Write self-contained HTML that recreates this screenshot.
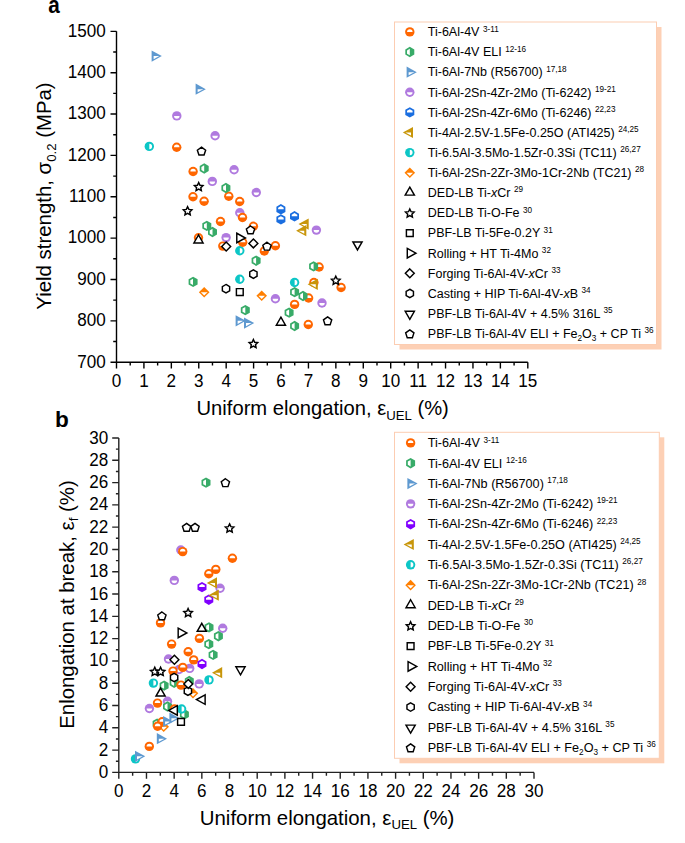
<!DOCTYPE html>
<html><head><meta charset="utf-8"><style>html,body{margin:0;padding:0;background:#fff;width:685px;height:843px;overflow:hidden}svg{display:block}</style></head>
<body><svg width="685" height="843" viewBox="0 0 685 843" font-family='"Liberation Sans", sans-serif' fill="#000"><text transform="translate(48.2,12.7) scale(0.9,1)" font-size="23" font-weight="bold">a</text>
<path d="M116.5,31.349999999999966 V362.2 H527.8" fill="none" stroke="#000" stroke-width="1.4"/>
<path d="M110.5,362.20H116.5M113.2,341.52H116.5M110.5,320.84H116.5M113.2,300.17H116.5M110.5,279.49H116.5M113.2,258.81H116.5M110.5,238.13H116.5M113.2,217.45H116.5M110.5,196.77H116.5M113.2,176.10H116.5M110.5,155.42H116.5M113.2,134.74H116.5M110.5,114.06H116.5M113.2,93.38H116.5M110.5,72.71H116.5M113.2,52.03H116.5M110.5,31.35H116.5M116.50,362.2V368.5M130.21,362.2V365.5M143.92,362.2V368.5M157.63,362.2V365.5M171.34,362.2V368.5M185.05,362.2V365.5M198.76,362.2V368.5M212.47,362.2V365.5M226.18,362.2V368.5M239.89,362.2V365.5M253.60,362.2V368.5M267.31,362.2V365.5M281.02,362.2V368.5M294.73,362.2V365.5M308.44,362.2V368.5M322.15,362.2V365.5M335.86,362.2V368.5M349.57,362.2V365.5M363.28,362.2V368.5M376.99,362.2V365.5M390.70,362.2V368.5M404.41,362.2V365.5M418.12,362.2V368.5M431.83,362.2V365.5M445.54,362.2V368.5M459.25,362.2V365.5M472.96,362.2V368.5M486.67,362.2V365.5M500.38,362.2V368.5M514.09,362.2V365.5M527.80,362.2V368.5" stroke="#000" stroke-width="1.4"/>
<text transform="translate(105.8,367.50) scale(0.96,1)" font-size="17.8" text-anchor="end">700</text>
<text transform="translate(105.8,326.14) scale(0.96,1)" font-size="17.8" text-anchor="end">800</text>
<text transform="translate(105.8,284.79) scale(0.96,1)" font-size="17.8" text-anchor="end">900</text>
<text transform="translate(105.8,243.43) scale(0.96,1)" font-size="17.8" text-anchor="end">1000</text>
<text transform="translate(105.8,202.07) scale(0.96,1)" font-size="17.8" text-anchor="end">1100</text>
<text transform="translate(105.8,160.72) scale(0.96,1)" font-size="17.8" text-anchor="end">1200</text>
<text transform="translate(105.8,119.36) scale(0.96,1)" font-size="17.8" text-anchor="end">1300</text>
<text transform="translate(105.8,78.01) scale(0.96,1)" font-size="17.8" text-anchor="end">1400</text>
<text transform="translate(105.8,36.65) scale(0.96,1)" font-size="17.8" text-anchor="end">1500</text>
<text transform="translate(116.50,386.9) scale(0.96,1)" font-size="17.8" text-anchor="middle">0</text>
<text transform="translate(143.92,386.9) scale(0.96,1)" font-size="17.8" text-anchor="middle">1</text>
<text transform="translate(171.34,386.9) scale(0.96,1)" font-size="17.8" text-anchor="middle">2</text>
<text transform="translate(198.76,386.9) scale(0.96,1)" font-size="17.8" text-anchor="middle">3</text>
<text transform="translate(226.18,386.9) scale(0.96,1)" font-size="17.8" text-anchor="middle">4</text>
<text transform="translate(253.60,386.9) scale(0.96,1)" font-size="17.8" text-anchor="middle">5</text>
<text transform="translate(281.02,386.9) scale(0.96,1)" font-size="17.8" text-anchor="middle">6</text>
<text transform="translate(308.44,386.9) scale(0.96,1)" font-size="17.8" text-anchor="middle">7</text>
<text transform="translate(335.86,386.9) scale(0.96,1)" font-size="17.8" text-anchor="middle">8</text>
<text transform="translate(363.28,386.9) scale(0.96,1)" font-size="17.8" text-anchor="middle">9</text>
<text transform="translate(390.70,386.9) scale(0.96,1)" font-size="17.8" text-anchor="middle">10</text>
<text transform="translate(418.12,386.9) scale(0.96,1)" font-size="17.8" text-anchor="middle">11</text>
<text transform="translate(445.54,386.9) scale(0.96,1)" font-size="17.8" text-anchor="middle">12</text>
<text transform="translate(472.96,386.9) scale(0.96,1)" font-size="17.8" text-anchor="middle">13</text>
<text transform="translate(500.38,386.9) scale(0.96,1)" font-size="17.8" text-anchor="middle">14</text>
<text transform="translate(527.80,386.9) scale(0.96,1)" font-size="17.8" text-anchor="middle">15</text>
<text x="196.5" y="415" font-size="20.2">Uniform elongation, ε<tspan font-size="13.2" dy="4.5">UEL</tspan><tspan dy="-4.5"> (%)</tspan></text>
<text transform="translate(51.3,309.7) rotate(-90)" font-size="20.4">Yield strength, σ<tspan font-size="13.2" dy="4.5">0.2</tspan><tspan dy="-4.5"> (MPa)</tspan></text>
<rect x="399.5" y="27" width="262.0" height="322.5" fill="#FDD0B5"/>
<rect x="394.5" y="22" width="262.0" height="322.5" fill="#fff" stroke="#FCCDB2" stroke-width="1"/>
<circle cx="409.80" cy="31.90" r="4.7" fill="#FF6600"/><path d="M407.05,31.90 A2.75,2.75 0 0 1 412.55,31.90 Z" fill="#fff"/>
<text x="427.8" y="36.20" font-size="12.5">Ti-6Al-4V<tspan dy="-4.7"> </tspan><tspan font-size="8.2">3-11</tspan></text>
<polygon points="409.80,46.82 414.30,49.42 414.30,54.62 409.80,57.22 405.30,54.62 405.30,49.42" fill="#38AB68"/><clipPath id="c1"><rect x="401.80" y="44.02" width="8" height="16"/></clipPath><polygon points="409.80,48.80 412.59,50.41 412.59,53.63 409.80,55.24 407.01,53.63 407.01,50.41" fill="#fff" clip-path="url(#c1)"/>
<text x="427.8" y="56.32" font-size="12.5">Ti-6Al-4V ELI<tspan dy="-4.7"> </tspan><tspan font-size="8.2">12-16</tspan></text>
<polygon points="406.60,66.54 416.80,72.14 406.60,77.74" fill="#5E99D0"/><clipPath id="c2"><rect x="403.10" y="72.14" width="16" height="8"/></clipPath><polygon points="408.62,69.06 414.24,72.14 408.62,75.22" fill="#fff" clip-path="url(#c2)"/>
<text x="427.8" y="76.44" font-size="12.5">Ti-6Al-7Nb (R56700)<tspan dy="-4.7"> </tspan><tspan font-size="8.2">17,18</tspan></text>
<circle cx="409.80" cy="92.26" r="4.7" fill="#B07ADF"/><path d="M407.05,92.26 A2.75,2.75 0 0 0 412.55,92.26 Z" fill="#fff"/>
<text x="427.8" y="96.56" font-size="12.5">Ti-6Al-2Sn-4Zr-2Mo (Ti-6242)<tspan dy="-4.7"> </tspan><tspan font-size="8.2">19-21</tspan></text>
<polygon points="409.80,107.18 414.30,109.78 414.30,114.98 409.80,117.58 405.30,114.98 405.30,109.78" fill="#1A6EE0"/><clipPath id="c3"><rect x="401.80" y="104.38" width="16" height="8"/></clipPath><polygon points="409.80,109.16 412.59,110.77 412.59,113.99 409.80,115.60 407.01,113.99 407.01,110.77" fill="#fff" clip-path="url(#c3)"/>
<text x="427.8" y="116.68" font-size="12.5">Ti-6Al-2Sn-4Zr-6Mo (Ti-6246)<tspan dy="-4.7"> </tspan><tspan font-size="8.2">22,23</tspan></text>
<polygon points="413.00,126.90 402.80,132.50 413.00,138.10" fill="#C8960A"/><clipPath id="c4"><rect x="400.50" y="132.50" width="16" height="8"/></clipPath><polygon points="410.98,129.42 405.37,132.50 410.98,135.58" fill="#fff" clip-path="url(#c4)"/>
<text x="427.8" y="136.80" font-size="12.5">Ti-4Al-2.5V-1.5Fe-0.25O (ATI425)<tspan dy="-4.7"> </tspan><tspan font-size="8.2">24,25</tspan></text>
<circle cx="409.80" cy="152.62" r="4.7" fill="#0CC6C6"/><path d="M409.80,149.87 A2.75,2.75 0 0 1 409.80,155.37 Z" fill="#fff"/>
<text x="427.8" y="156.92" font-size="12.5">Ti-6.5Al-3.5Mo-1.5Zr-0.3Si (TC11)<tspan dy="-4.7"> </tspan><tspan font-size="8.2">26,27</tspan></text>
<polygon points="409.80,167.44 415.10,172.74 409.80,178.04 404.50,172.74" fill="#FF7F00"/><clipPath id="c5"><rect x="401.80" y="172.74" width="16" height="8"/></clipPath><polygon points="409.80,169.45 413.09,172.74 409.80,176.03 406.51,172.74" fill="#fff" clip-path="url(#c5)"/>
<text x="427.8" y="177.04" font-size="12.5">Ti-6Al-2Sn-2Zr-3Mo-1Cr-2Nb (TC21)<tspan dy="-4.7"> </tspan><tspan font-size="8.2">28</tspan></text>
<polygon points="409.80,187.14 414.39,195.13 405.21,195.13" fill="#fff" stroke="#000" stroke-width="1.45" stroke-linejoin="miter"/>
<text x="427.8" y="197.16" font-size="12.5">DED-LB Ti-<tspan font-style="italic">x</tspan>Cr<tspan dy="-4.7"> </tspan><tspan font-size="8.2">29</tspan></text>
<polygon points="409.80,208.98 411.09,211.70 414.08,212.09 411.89,214.16 412.45,217.12 409.80,215.68 407.15,217.12 407.71,214.16 405.52,212.09 408.51,211.70" fill="#fff" stroke="#000" stroke-width="1.45" stroke-linejoin="miter"/>
<text x="427.8" y="217.28" font-size="12.5">DED-LB Ti-O-Fe<tspan dy="-4.7"> </tspan><tspan font-size="8.2">30</tspan></text>
<polygon points="406.40,229.70 413.20,229.70 413.20,236.50 406.40,236.50" fill="#fff" stroke="#000" stroke-width="1.45" stroke-linejoin="miter"/>
<text x="427.8" y="237.40" font-size="12.5">PBF-LB Ti-5Fe-0.2Y<tspan dy="-4.7"> </tspan><tspan font-size="8.2">31</tspan></text>
<polygon points="407.28,248.46 415.95,253.22 407.28,257.98" fill="#fff" stroke="#000" stroke-width="1.45" stroke-linejoin="miter"/>
<text x="427.8" y="257.52" font-size="12.5">Rolling + HT Ti-4Mo<tspan dy="-4.7"> </tspan><tspan font-size="8.2">32</tspan></text>
<polygon points="409.80,268.89 414.25,273.34 409.80,277.79 405.35,273.34" fill="#fff" stroke="#000" stroke-width="1.45" stroke-linejoin="miter"/>
<text x="427.8" y="277.64" font-size="12.5">Forging Ti-6Al-4V-<tspan font-style="italic">x</tspan>Cr<tspan dy="-4.7"> </tspan><tspan font-size="8.2">33</tspan></text>
<polygon points="409.80,289.25 413.45,291.35 413.45,295.57 409.80,297.67 406.15,295.57 406.15,291.35" fill="#fff" stroke="#000" stroke-width="1.45" stroke-linejoin="miter"/>
<text x="427.8" y="297.76" font-size="12.5">Casting + HIP Ti-6Al-4V-<tspan font-style="italic">x</tspan>B<tspan dy="-4.7"> </tspan><tspan font-size="8.2">34</tspan></text>
<polygon points="409.80,319.30 414.39,311.31 405.21,311.31" fill="#fff" stroke="#000" stroke-width="1.45" stroke-linejoin="miter"/>
<text x="427.8" y="317.88" font-size="12.5">PBF-LB Ti-6Al-4V + 4.5% 316L<tspan dy="-4.7"> </tspan><tspan font-size="8.2">35</tspan></text>
<polygon points="409.80,329.87 413.94,332.88 412.36,337.74 407.24,337.74 405.66,332.88" fill="#fff" stroke="#000" stroke-width="1.45" stroke-linejoin="miter"/>
<text x="427.8" y="338.00" font-size="12.5">PBF-LB Ti-6Al-4V ELI + Fe<tspan font-size="8.2" dy="3">2</tspan><tspan dy="-3">O</tspan><tspan font-size="8.2" dy="3">3</tspan><tspan dy="-3"> + CP Ti</tspan><tspan dy="-4.7"> </tspan><tspan font-size="8.2">36</tspan></text>
<circle cx="176.80" cy="115.90" r="4.7" fill="#B07ADF"/><path d="M174.05,115.90 A2.75,2.75 0 0 0 179.55,115.90 Z" fill="#fff"/>
<circle cx="215.10" cy="135.80" r="4.7" fill="#B07ADF"/><path d="M212.35,135.80 A2.75,2.75 0 0 0 217.85,135.80 Z" fill="#fff"/>
<circle cx="234.10" cy="169.70" r="4.7" fill="#B07ADF"/><path d="M231.35,169.70 A2.75,2.75 0 0 0 236.85,169.70 Z" fill="#fff"/>
<circle cx="212.30" cy="181.40" r="4.7" fill="#B07ADF"/><path d="M209.55,181.40 A2.75,2.75 0 0 0 215.05,181.40 Z" fill="#fff"/>
<circle cx="256.30" cy="192.50" r="4.7" fill="#B07ADF"/><path d="M253.55,192.50 A2.75,2.75 0 0 0 259.05,192.50 Z" fill="#fff"/>
<circle cx="239.80" cy="212.80" r="4.7" fill="#B07ADF"/><path d="M237.05,212.80 A2.75,2.75 0 0 0 242.55,212.80 Z" fill="#fff"/>
<circle cx="226.10" cy="237.60" r="4.7" fill="#B07ADF"/><path d="M223.35,237.60 A2.75,2.75 0 0 0 228.85,237.60 Z" fill="#fff"/>
<circle cx="316.40" cy="230.10" r="4.7" fill="#B07ADF"/><path d="M313.65,230.10 A2.75,2.75 0 0 0 319.15,230.10 Z" fill="#fff"/>
<circle cx="275.40" cy="298.80" r="4.7" fill="#B07ADF"/><path d="M272.65,298.80 A2.75,2.75 0 0 0 278.15,298.80 Z" fill="#fff"/>
<circle cx="322.00" cy="303.00" r="4.7" fill="#B07ADF"/><path d="M319.25,303.00 A2.75,2.75 0 0 0 324.75,303.00 Z" fill="#fff"/>
<circle cx="149.30" cy="146.40" r="4.7" fill="#0CC6C6"/><path d="M149.30,143.65 A2.75,2.75 0 0 1 149.30,149.15 Z" fill="#fff"/>
<circle cx="239.80" cy="250.80" r="4.7" fill="#0CC6C6"/><path d="M239.80,248.05 A2.75,2.75 0 0 1 239.80,253.55 Z" fill="#fff"/>
<circle cx="239.80" cy="279.30" r="4.7" fill="#0CC6C6"/><path d="M239.80,276.55 A2.75,2.75 0 0 1 239.80,282.05 Z" fill="#fff"/>
<circle cx="294.60" cy="282.50" r="4.7" fill="#0CC6C6"/><path d="M294.60,279.75 A2.75,2.75 0 0 1 294.60,285.25 Z" fill="#fff"/>
<circle cx="176.70" cy="147.30" r="4.7" fill="#FF6600"/><path d="M173.95,147.30 A2.75,2.75 0 0 1 179.45,147.30 Z" fill="#fff"/>
<circle cx="193.10" cy="171.50" r="4.7" fill="#FF6600"/><path d="M190.35,171.50 A2.75,2.75 0 0 1 195.85,171.50 Z" fill="#fff"/>
<circle cx="193.00" cy="196.70" r="4.7" fill="#FF6600"/><path d="M190.25,196.70 A2.75,2.75 0 0 1 195.75,196.70 Z" fill="#fff"/>
<circle cx="204.10" cy="201.30" r="4.7" fill="#FF6600"/><path d="M201.35,201.30 A2.75,2.75 0 0 1 206.85,201.30 Z" fill="#fff"/>
<circle cx="228.80" cy="196.30" r="4.7" fill="#FF6600"/><path d="M226.05,196.30 A2.75,2.75 0 0 1 231.55,196.30 Z" fill="#fff"/>
<circle cx="239.70" cy="201.50" r="4.7" fill="#FF6600"/><path d="M236.95,201.50 A2.75,2.75 0 0 1 242.45,201.50 Z" fill="#fff"/>
<circle cx="242.50" cy="217.50" r="4.7" fill="#FF6600"/><path d="M239.75,217.50 A2.75,2.75 0 0 1 245.25,217.50 Z" fill="#fff"/>
<circle cx="220.50" cy="221.50" r="4.7" fill="#FF6600"/><path d="M217.75,221.50 A2.75,2.75 0 0 1 223.25,221.50 Z" fill="#fff"/>
<circle cx="253.40" cy="226.30" r="4.7" fill="#FF6600"/><path d="M250.65,226.30 A2.75,2.75 0 0 1 256.15,226.30 Z" fill="#fff"/>
<circle cx="198.50" cy="237.80" r="4.7" fill="#FF6600"/><path d="M195.75,237.80 A2.75,2.75 0 0 1 201.25,237.80 Z" fill="#fff"/>
<circle cx="242.70" cy="242.30" r="4.7" fill="#FF6600"/><path d="M239.95,242.30 A2.75,2.75 0 0 1 245.45,242.30 Z" fill="#fff"/>
<circle cx="222.80" cy="246.10" r="4.7" fill="#FF6600"/><path d="M220.05,246.10 A2.75,2.75 0 0 1 225.55,246.10 Z" fill="#fff"/>
<circle cx="264.30" cy="251.00" r="4.7" fill="#FF6600"/><path d="M261.55,251.00 A2.75,2.75 0 0 1 267.05,251.00 Z" fill="#fff"/>
<circle cx="275.40" cy="245.80" r="4.7" fill="#FF6600"/><path d="M272.65,245.80 A2.75,2.75 0 0 1 278.15,245.80 Z" fill="#fff"/>
<circle cx="319.10" cy="267.00" r="4.7" fill="#FF6600"/><path d="M316.35,267.00 A2.75,2.75 0 0 1 321.85,267.00 Z" fill="#fff"/>
<circle cx="313.90" cy="282.50" r="4.7" fill="#FF6600"/><path d="M311.15,282.50 A2.75,2.75 0 0 1 316.65,282.50 Z" fill="#fff"/>
<circle cx="341.10" cy="287.50" r="4.7" fill="#FF6600"/><path d="M338.35,287.50 A2.75,2.75 0 0 1 343.85,287.50 Z" fill="#fff"/>
<circle cx="308.60" cy="298.00" r="4.7" fill="#FF6600"/><path d="M305.85,298.00 A2.75,2.75 0 0 1 311.35,298.00 Z" fill="#fff"/>
<circle cx="294.60" cy="304.40" r="4.7" fill="#FF6600"/><path d="M291.85,304.40 A2.75,2.75 0 0 1 297.35,304.40 Z" fill="#fff"/>
<circle cx="308.30" cy="324.50" r="4.7" fill="#FF6600"/><path d="M305.55,324.50 A2.75,2.75 0 0 1 311.05,324.50 Z" fill="#fff"/>
<polygon points="204.20,163.30 208.70,165.90 208.70,171.10 204.20,173.70 199.70,171.10 199.70,165.90" fill="#38AB68"/><clipPath id="c6"><rect x="196.20" y="160.50" width="8" height="16"/></clipPath><polygon points="204.20,165.28 206.99,166.89 206.99,170.11 204.20,171.72 201.41,170.11 201.41,166.89" fill="#fff" clip-path="url(#c6)"/>
<polygon points="225.90,182.80 230.40,185.40 230.40,190.60 225.90,193.20 221.40,190.60 221.40,185.40" fill="#38AB68"/><clipPath id="c7"><rect x="217.90" y="180.00" width="8" height="16"/></clipPath><polygon points="225.90,184.78 228.69,186.39 228.69,189.61 225.90,191.22 223.11,189.61 223.11,186.39" fill="#fff" clip-path="url(#c7)"/>
<polygon points="206.80,220.70 211.30,223.30 211.30,228.50 206.80,231.10 202.30,228.50 202.30,223.30" fill="#38AB68"/><clipPath id="c8"><rect x="198.80" y="217.90" width="8" height="16"/></clipPath><polygon points="206.80,222.68 209.59,224.29 209.59,227.51 206.80,229.12 204.01,227.51 204.01,224.29" fill="#fff" clip-path="url(#c8)"/>
<polygon points="212.50,226.80 217.00,229.40 217.00,234.60 212.50,237.20 208.00,234.60 208.00,229.40" fill="#38AB68"/><clipPath id="c9"><rect x="204.50" y="224.00" width="8" height="16"/></clipPath><polygon points="212.50,228.78 215.29,230.39 215.29,233.61 212.50,235.22 209.71,233.61 209.71,230.39" fill="#fff" clip-path="url(#c9)"/>
<polygon points="256.10,255.50 260.60,258.10 260.60,263.30 256.10,265.90 251.60,263.30 251.60,258.10" fill="#38AB68"/><clipPath id="c10"><rect x="248.10" y="252.70" width="8" height="16"/></clipPath><polygon points="256.10,257.48 258.89,259.09 258.89,262.31 256.10,263.92 253.31,262.31 253.31,259.09" fill="#fff" clip-path="url(#c10)"/>
<polygon points="193.10,276.70 197.60,279.30 197.60,284.50 193.10,287.10 188.60,284.50 188.60,279.30" fill="#38AB68"/><clipPath id="c11"><rect x="185.10" y="273.90" width="8" height="16"/></clipPath><polygon points="193.10,278.68 195.89,280.29 195.89,283.51 193.10,285.12 190.31,283.51 190.31,280.29" fill="#fff" clip-path="url(#c11)"/>
<polygon points="245.30,304.90 249.80,307.50 249.80,312.70 245.30,315.30 240.80,312.70 240.80,307.50" fill="#38AB68"/><clipPath id="c12"><rect x="237.30" y="302.10" width="8" height="16"/></clipPath><polygon points="245.30,306.88 248.09,308.49 248.09,311.71 245.30,313.32 242.51,311.71 242.51,308.49" fill="#fff" clip-path="url(#c12)"/>
<polygon points="313.60,261.20 318.10,263.80 318.10,269.00 313.60,271.60 309.10,269.00 309.10,263.80" fill="#38AB68"/><clipPath id="c13"><rect x="305.60" y="258.40" width="8" height="16"/></clipPath><polygon points="313.60,263.18 316.39,264.79 316.39,268.01 313.60,269.62 310.81,268.01 310.81,264.79" fill="#fff" clip-path="url(#c13)"/>
<polygon points="294.60,286.90 299.10,289.50 299.10,294.70 294.60,297.30 290.10,294.70 290.10,289.50" fill="#38AB68"/><clipPath id="c14"><rect x="286.60" y="284.10" width="8" height="16"/></clipPath><polygon points="294.60,288.88 297.39,290.49 297.39,293.71 294.60,295.32 291.81,293.71 291.81,290.49" fill="#fff" clip-path="url(#c14)"/>
<polygon points="303.00,290.80 307.50,293.40 307.50,298.60 303.00,301.20 298.50,298.60 298.50,293.40" fill="#38AB68"/><clipPath id="c15"><rect x="295.00" y="288.00" width="8" height="16"/></clipPath><polygon points="303.00,292.78 305.79,294.39 305.79,297.61 303.00,299.22 300.21,297.61 300.21,294.39" fill="#fff" clip-path="url(#c15)"/>
<polygon points="289.10,307.40 293.60,310.00 293.60,315.20 289.10,317.80 284.60,315.20 284.60,310.00" fill="#38AB68"/><clipPath id="c16"><rect x="281.10" y="304.60" width="8" height="16"/></clipPath><polygon points="289.10,309.38 291.89,310.99 291.89,314.21 289.10,315.82 286.31,314.21 286.31,310.99" fill="#fff" clip-path="url(#c16)"/>
<polygon points="294.60,320.80 299.10,323.40 299.10,328.60 294.60,331.20 290.10,328.60 290.10,323.40" fill="#38AB68"/><clipPath id="c17"><rect x="286.60" y="318.00" width="8" height="16"/></clipPath><polygon points="294.60,322.78 297.39,324.39 297.39,327.61 294.60,329.22 291.81,327.61 291.81,324.39" fill="#fff" clip-path="url(#c17)"/>
<polygon points="151.60,50.50 161.80,56.10 151.60,61.70" fill="#5E99D0"/><clipPath id="c18"><rect x="148.10" y="56.10" width="16" height="8"/></clipPath><polygon points="153.62,53.02 159.23,56.10 153.62,59.18" fill="#fff" clip-path="url(#c18)"/>
<polygon points="195.60,83.60 205.80,89.20 195.60,94.80" fill="#5E99D0"/><clipPath id="c19"><rect x="192.10" y="89.20" width="16" height="8"/></clipPath><polygon points="197.62,86.12 203.23,89.20 197.62,92.28" fill="#fff" clip-path="url(#c19)"/>
<polygon points="235.60,315.20 245.80,320.80 235.60,326.40" fill="#5E99D0"/><clipPath id="c20"><rect x="232.10" y="320.80" width="16" height="8"/></clipPath><polygon points="237.62,317.72 243.23,320.80 237.62,323.88" fill="#fff" clip-path="url(#c20)"/>
<polygon points="244.00,317.50 254.20,323.10 244.00,328.70" fill="#5E99D0"/><clipPath id="c21"><rect x="240.50" y="323.10" width="16" height="8"/></clipPath><polygon points="246.03,320.02 251.63,323.10 246.03,326.18" fill="#fff" clip-path="url(#c21)"/>
<polygon points="280.90,204.10 285.40,206.70 285.40,211.90 280.90,214.50 276.40,211.90 276.40,206.70" fill="#1A6EE0"/><clipPath id="c22"><rect x="272.90" y="201.30" width="16" height="8"/></clipPath><polygon points="280.90,206.08 283.69,207.69 283.69,210.91 280.90,212.52 278.11,210.91 278.11,207.69" fill="#fff" clip-path="url(#c22)"/>
<polygon points="280.90,214.20 285.40,216.80 285.40,222.00 280.90,224.60 276.40,222.00 276.40,216.80" fill="#1A6EE0"/><clipPath id="c23"><rect x="272.90" y="211.40" width="16" height="8"/></clipPath><polygon points="280.90,216.18 283.69,217.79 283.69,221.01 280.90,222.62 278.11,221.01 278.11,217.79" fill="#fff" clip-path="url(#c23)"/>
<polygon points="294.50,211.10 299.00,213.70 299.00,218.90 294.50,221.50 290.00,218.90 290.00,213.70" fill="#1A6EE0"/><clipPath id="c24"><rect x="286.50" y="208.30" width="16" height="8"/></clipPath><polygon points="294.50,213.08 297.29,214.69 297.29,217.91 294.50,219.52 291.71,217.91 291.71,214.69" fill="#fff" clip-path="url(#c24)"/>
<polygon points="308.70,218.50 298.50,224.10 308.70,229.70" fill="#C8960A"/><clipPath id="c25"><rect x="296.20" y="224.10" width="16" height="8"/></clipPath><polygon points="306.68,221.02 301.06,224.10 306.68,227.18" fill="#fff" clip-path="url(#c25)"/>
<polygon points="306.30,225.10 296.10,230.70 306.30,236.30" fill="#C8960A"/><clipPath id="c26"><rect x="293.80" y="230.70" width="16" height="8"/></clipPath><polygon points="304.28,227.62 298.67,230.70 304.28,233.78" fill="#fff" clip-path="url(#c26)"/>
<polygon points="317.80,278.70 307.60,284.30 317.80,289.90" fill="#C8960A"/><clipPath id="c27"><rect x="305.30" y="284.30" width="16" height="8"/></clipPath><polygon points="315.78,281.22 310.17,284.30 315.78,287.38" fill="#fff" clip-path="url(#c27)"/>
<polygon points="204.20,286.90 209.50,292.20 204.20,297.50 198.90,292.20" fill="#FF7F00"/><clipPath id="c28"><rect x="196.20" y="292.20" width="16" height="8"/></clipPath><polygon points="204.20,288.91 207.49,292.20 204.20,295.49 200.91,292.20" fill="#fff" clip-path="url(#c28)"/>
<polygon points="261.70,290.40 267.00,295.70 261.70,301.00 256.40,295.70" fill="#FF7F00"/><clipPath id="c29"><rect x="253.70" y="295.70" width="16" height="8"/></clipPath><polygon points="261.70,292.41 264.99,295.70 261.70,298.99 258.41,295.70" fill="#fff" clip-path="url(#c29)"/>
<polygon points="198.50,234.98 203.09,242.97 193.91,242.97" fill="#fff" stroke="#000" stroke-width="1.45" stroke-linejoin="miter"/>
<polygon points="280.90,317.18 285.49,325.17 276.31,325.17" fill="#fff" stroke="#000" stroke-width="1.45" stroke-linejoin="miter"/>
<polygon points="198.70,182.50 199.99,185.22 202.98,185.61 200.79,187.68 201.35,190.64 198.70,189.20 196.05,190.64 196.61,187.68 194.42,185.61 197.41,185.22" fill="#fff" stroke="#000" stroke-width="1.45" stroke-linejoin="miter"/>
<polygon points="187.60,206.70 188.89,209.42 191.88,209.81 189.69,211.88 190.25,214.84 187.60,213.40 184.95,214.84 185.51,211.88 183.32,209.81 186.31,209.42" fill="#fff" stroke="#000" stroke-width="1.45" stroke-linejoin="miter"/>
<polygon points="335.80,276.20 337.09,278.92 340.08,279.31 337.89,281.38 338.45,284.34 335.80,282.90 333.15,284.34 333.71,281.38 331.52,279.31 334.51,278.92" fill="#fff" stroke="#000" stroke-width="1.45" stroke-linejoin="miter"/>
<polygon points="253.40,339.50 254.69,342.22 257.68,342.61 255.49,344.68 256.05,347.64 253.40,346.20 250.75,347.64 251.31,344.68 249.12,342.61 252.11,342.22" fill="#fff" stroke="#000" stroke-width="1.45" stroke-linejoin="miter"/>
<polygon points="236.40,288.60 243.20,288.60 243.20,295.40 236.40,295.40" fill="#fff" stroke="#000" stroke-width="1.45" stroke-linejoin="miter"/>
<polygon points="236.78,233.24 245.44,238.00 236.78,242.76" fill="#fff" stroke="#000" stroke-width="1.45" stroke-linejoin="miter"/>
<polygon points="226.20,242.05 230.65,246.50 226.20,250.95 221.75,246.50" fill="#fff" stroke="#000" stroke-width="1.45" stroke-linejoin="miter"/>
<polygon points="253.40,238.95 257.85,243.40 253.40,247.85 248.95,243.40" fill="#fff" stroke="#000" stroke-width="1.45" stroke-linejoin="miter"/>
<polygon points="253.40,269.89 257.05,271.99 257.05,276.21 253.40,278.31 249.75,276.21 249.75,271.99" fill="#fff" stroke="#000" stroke-width="1.45" stroke-linejoin="miter"/>
<polygon points="226.00,284.49 229.65,286.59 229.65,290.81 226.00,292.91 222.35,290.81 222.35,286.59" fill="#fff" stroke="#000" stroke-width="1.45" stroke-linejoin="miter"/>
<polygon points="357.50,249.92 362.09,241.93 352.91,241.93" fill="#fff" stroke="#000" stroke-width="1.45" stroke-linejoin="miter"/>
<polygon points="201.50,147.17 205.64,150.18 204.06,155.04 198.94,155.04 197.36,150.18" fill="#fff" stroke="#000" stroke-width="1.45" stroke-linejoin="miter"/>
<polygon points="250.50,225.97 254.64,228.98 253.06,233.84 247.94,233.84 246.36,228.98" fill="#fff" stroke="#000" stroke-width="1.45" stroke-linejoin="miter"/>
<polygon points="267.00,242.27 271.14,245.28 269.56,250.14 264.44,250.14 262.86,245.28" fill="#fff" stroke="#000" stroke-width="1.45" stroke-linejoin="miter"/>
<polygon points="327.60,316.87 331.74,319.88 330.16,324.74 325.04,324.74 323.46,319.88" fill="#fff" stroke="#000" stroke-width="1.45" stroke-linejoin="miter"/>
<text x="55" y="427.4" font-size="22.6" font-weight="bold">b</text>
<path d="M118.8,438.0 V772.4 H534.0" fill="none" stroke="#222" stroke-width="1.4"/>
<path d="M112.2,772.40H118.8M115.89999999999999,761.25H118.8M112.2,750.11H118.8M115.89999999999999,738.96H118.8M112.2,727.81H118.8M115.89999999999999,716.67H118.8M112.2,705.52H118.8M115.89999999999999,694.37H118.8M112.2,683.23H118.8M115.89999999999999,672.08H118.8M112.2,660.93H118.8M115.89999999999999,649.79H118.8M112.2,638.64H118.8M115.89999999999999,627.49H118.8M112.2,616.35H118.8M115.89999999999999,605.20H118.8M112.2,594.05H118.8M115.89999999999999,582.91H118.8M112.2,571.76H118.8M115.89999999999999,560.61H118.8M112.2,549.47H118.8M115.89999999999999,538.32H118.8M112.2,527.17H118.8M115.89999999999999,516.03H118.8M112.2,504.88H118.8M115.89999999999999,493.73H118.8M112.2,482.59H118.8M115.89999999999999,471.44H118.8M112.2,460.29H118.8M115.89999999999999,449.15H118.8M112.2,438.00H118.8M118.80,772.4V778.6999999999999M132.64,772.4V775.6999999999999M146.48,772.4V778.6999999999999M160.32,772.4V775.6999999999999M174.16,772.4V778.6999999999999M188.00,772.4V775.6999999999999M201.84,772.4V778.6999999999999M215.68,772.4V775.6999999999999M229.52,772.4V778.6999999999999M243.36,772.4V775.6999999999999M257.20,772.4V778.6999999999999M271.04,772.4V775.6999999999999M284.88,772.4V778.6999999999999M298.72,772.4V775.6999999999999M312.56,772.4V778.6999999999999M326.40,772.4V775.6999999999999M340.24,772.4V778.6999999999999M354.08,772.4V775.6999999999999M367.92,772.4V778.6999999999999M381.76,772.4V775.6999999999999M395.60,772.4V778.6999999999999M409.44,772.4V775.6999999999999M423.28,772.4V778.6999999999999M437.12,772.4V775.6999999999999M450.96,772.4V778.6999999999999M464.80,772.4V775.6999999999999M478.64,772.4V778.6999999999999M492.48,772.4V775.6999999999999M506.32,772.4V778.6999999999999M520.16,772.4V775.6999999999999M534.00,772.4V778.6999999999999" stroke="#222" stroke-width="1.4"/>
<text transform="translate(108.3,777.90) scale(0.96,1)" font-size="17.8" text-anchor="end">0</text>
<text transform="translate(108.3,755.61) scale(0.96,1)" font-size="17.8" text-anchor="end">2</text>
<text transform="translate(108.3,733.31) scale(0.96,1)" font-size="17.8" text-anchor="end">4</text>
<text transform="translate(108.3,711.02) scale(0.96,1)" font-size="17.8" text-anchor="end">6</text>
<text transform="translate(108.3,688.73) scale(0.96,1)" font-size="17.8" text-anchor="end">8</text>
<text transform="translate(108.3,666.43) scale(0.96,1)" font-size="17.8" text-anchor="end">10</text>
<text transform="translate(108.3,644.14) scale(0.96,1)" font-size="17.8" text-anchor="end">12</text>
<text transform="translate(108.3,621.85) scale(0.96,1)" font-size="17.8" text-anchor="end">14</text>
<text transform="translate(108.3,599.55) scale(0.96,1)" font-size="17.8" text-anchor="end">16</text>
<text transform="translate(108.3,577.26) scale(0.96,1)" font-size="17.8" text-anchor="end">18</text>
<text transform="translate(108.3,554.97) scale(0.96,1)" font-size="17.8" text-anchor="end">20</text>
<text transform="translate(108.3,532.67) scale(0.96,1)" font-size="17.8" text-anchor="end">22</text>
<text transform="translate(108.3,510.38) scale(0.96,1)" font-size="17.8" text-anchor="end">24</text>
<text transform="translate(108.3,488.09) scale(0.96,1)" font-size="17.8" text-anchor="end">26</text>
<text transform="translate(108.3,465.79) scale(0.96,1)" font-size="17.8" text-anchor="end">28</text>
<text transform="translate(108.3,443.50) scale(0.96,1)" font-size="17.8" text-anchor="end">30</text>
<text transform="translate(118.80,797.0) scale(0.96,1)" font-size="17.8" text-anchor="middle">0</text>
<text transform="translate(146.48,797.0) scale(0.96,1)" font-size="17.8" text-anchor="middle">2</text>
<text transform="translate(174.16,797.0) scale(0.96,1)" font-size="17.8" text-anchor="middle">4</text>
<text transform="translate(201.84,797.0) scale(0.96,1)" font-size="17.8" text-anchor="middle">6</text>
<text transform="translate(229.52,797.0) scale(0.96,1)" font-size="17.8" text-anchor="middle">8</text>
<text transform="translate(257.20,797.0) scale(0.96,1)" font-size="17.8" text-anchor="middle">10</text>
<text transform="translate(284.88,797.0) scale(0.96,1)" font-size="17.8" text-anchor="middle">12</text>
<text transform="translate(312.56,797.0) scale(0.96,1)" font-size="17.8" text-anchor="middle">14</text>
<text transform="translate(340.24,797.0) scale(0.96,1)" font-size="17.8" text-anchor="middle">16</text>
<text transform="translate(367.92,797.0) scale(0.96,1)" font-size="17.8" text-anchor="middle">18</text>
<text transform="translate(395.60,797.0) scale(0.96,1)" font-size="17.8" text-anchor="middle">20</text>
<text transform="translate(423.28,797.0) scale(0.96,1)" font-size="17.8" text-anchor="middle">22</text>
<text transform="translate(450.96,797.0) scale(0.96,1)" font-size="17.8" text-anchor="middle">24</text>
<text transform="translate(478.64,797.0) scale(0.96,1)" font-size="17.8" text-anchor="middle">26</text>
<text transform="translate(506.32,797.0) scale(0.96,1)" font-size="17.8" text-anchor="middle">28</text>
<text transform="translate(534.00,797.0) scale(0.96,1)" font-size="17.8" text-anchor="middle">30</text>
<text x="199.8" y="824.5" font-size="20.4">Uniform elongation, ε<tspan font-size="13.2" dy="4.5">UEL</tspan><tspan dy="-4.5"> (%)</tspan></text>
<text transform="translate(73.7,728.8) rotate(-90)" font-size="20.4">Enlongation at break, ε<tspan font-size="13.2" dy="4.5">f</tspan><tspan dy="-4.5"> (%)</tspan></text>
<rect x="399.5" y="437.3" width="264.79999999999995" height="325.99999999999994" fill="#FDD0B5"/>
<rect x="394.5" y="432.3" width="264.79999999999995" height="325.99999999999994" fill="#fff" stroke="#FCCDB2" stroke-width="1"/>
<circle cx="410.60" cy="442.90" r="4.7" fill="#FF6600"/><path d="M407.85,442.90 A2.75,2.75 0 0 1 413.35,442.90 Z" fill="#fff"/>
<text x="427.7" y="447.20" font-size="12.65">Ti-6Al-4V<tspan dy="-4.7"> </tspan><tspan font-size="8.2">3-11</tspan></text>
<polygon points="410.60,458.02 415.10,460.62 415.10,465.82 410.60,468.42 406.10,465.82 406.10,460.62" fill="#38AB68"/><clipPath id="c30"><rect x="402.60" y="455.22" width="8" height="16"/></clipPath><polygon points="410.60,460.00 413.39,461.61 413.39,464.83 410.60,466.44 407.81,464.83 407.81,461.61" fill="#fff" clip-path="url(#c30)"/>
<text x="427.7" y="467.52" font-size="12.65">Ti-6Al-4V ELI<tspan dy="-4.7"> </tspan><tspan font-size="8.2">12-16</tspan></text>
<polygon points="407.40,477.94 417.60,483.54 407.40,489.14" fill="#5E99D0"/><clipPath id="c31"><rect x="403.90" y="483.54" width="16" height="8"/></clipPath><polygon points="409.43,480.46 415.04,483.54 409.43,486.62" fill="#fff" clip-path="url(#c31)"/>
<text x="427.7" y="487.84" font-size="12.65">Ti-6Al-7Nb (R56700)<tspan dy="-4.7"> </tspan><tspan font-size="8.2">17,18</tspan></text>
<circle cx="410.60" cy="503.86" r="4.7" fill="#B07ADF"/><path d="M407.85,503.86 A2.75,2.75 0 0 0 413.35,503.86 Z" fill="#fff"/>
<text x="427.7" y="508.16" font-size="12.65">Ti-6Al-2Sn-4Zr-2Mo (Ti-6242)<tspan dy="-4.7"> </tspan><tspan font-size="8.2">19-21</tspan></text>
<polygon points="410.60,518.98 415.10,521.58 415.10,526.78 410.60,529.38 406.10,526.78 406.10,521.58" fill="#8000FF"/><clipPath id="c32"><rect x="402.60" y="516.18" width="16" height="8"/></clipPath><polygon points="410.60,520.96 413.39,522.57 413.39,525.79 410.60,527.40 407.81,525.79 407.81,522.57" fill="#fff" clip-path="url(#c32)"/>
<text x="427.7" y="528.48" font-size="12.65">Ti-6Al-2Sn-4Zr-6Mo (Ti-6246)<tspan dy="-4.7"> </tspan><tspan font-size="8.2">22,23</tspan></text>
<polygon points="413.80,538.90 403.60,544.50 413.80,550.10" fill="#C8960A"/><clipPath id="c33"><rect x="401.30" y="544.50" width="16" height="8"/></clipPath><polygon points="411.78,541.42 406.17,544.50 411.78,547.58" fill="#fff" clip-path="url(#c33)"/>
<text x="427.7" y="548.80" font-size="12.65">Ti-4Al-2.5V-1.5Fe-0.25O (ATI425)<tspan dy="-4.7"> </tspan><tspan font-size="8.2">24,25</tspan></text>
<circle cx="410.60" cy="564.82" r="4.7" fill="#0CC6C6"/><path d="M410.60,562.07 A2.75,2.75 0 0 1 410.60,567.57 Z" fill="#fff"/>
<text x="427.7" y="569.12" font-size="12.65">Ti-6.5Al-3.5Mo-1.5Zr-0.3Si (TC11)<tspan dy="-4.7"> </tspan><tspan font-size="8.2">26,27</tspan></text>
<polygon points="410.60,579.84 415.90,585.14 410.60,590.44 405.30,585.14" fill="#FF7F00"/><clipPath id="c34"><rect x="402.60" y="585.14" width="16" height="8"/></clipPath><polygon points="410.60,581.85 413.89,585.14 410.60,588.43 407.31,585.14" fill="#fff" clip-path="url(#c34)"/>
<text x="427.7" y="589.44" font-size="12.65">Ti-6Al-2Sn-2Zr-3Mo-1Cr-2Nb (TC21)<tspan dy="-4.7"> </tspan><tspan font-size="8.2">28</tspan></text>
<polygon points="410.60,599.74 415.19,607.73 406.01,607.73" fill="#fff" stroke="#000" stroke-width="1.45" stroke-linejoin="miter"/>
<text x="427.7" y="609.76" font-size="12.65">DED-LB Ti-<tspan font-style="italic">x</tspan>Cr<tspan dy="-4.7"> </tspan><tspan font-size="8.2">29</tspan></text>
<polygon points="410.60,621.78 411.89,624.50 414.88,624.89 412.69,626.96 413.25,629.92 410.60,628.48 407.95,629.92 408.51,626.96 406.32,624.89 409.31,624.50" fill="#fff" stroke="#000" stroke-width="1.45" stroke-linejoin="miter"/>
<text x="427.7" y="630.08" font-size="12.65">DED-LB Ti-O-Fe<tspan dy="-4.7"> </tspan><tspan font-size="8.2">30</tspan></text>
<polygon points="407.20,642.70 414.00,642.70 414.00,649.50 407.20,649.50" fill="#fff" stroke="#000" stroke-width="1.45" stroke-linejoin="miter"/>
<text x="427.7" y="650.40" font-size="12.65">PBF-LB Ti-5Fe-0.2Y<tspan dy="-4.7"> </tspan><tspan font-size="8.2">31</tspan></text>
<polygon points="408.08,661.66 416.75,666.42 408.08,671.18" fill="#fff" stroke="#000" stroke-width="1.45" stroke-linejoin="miter"/>
<text x="427.7" y="670.72" font-size="12.65">Rolling + HT Ti-4Mo<tspan dy="-4.7"> </tspan><tspan font-size="8.2">32</tspan></text>
<polygon points="410.60,682.29 415.05,686.74 410.60,691.19 406.15,686.74" fill="#fff" stroke="#000" stroke-width="1.45" stroke-linejoin="miter"/>
<text x="427.7" y="691.04" font-size="12.65">Forging Ti-6Al-4V-<tspan font-style="italic">x</tspan>Cr<tspan dy="-4.7"> </tspan><tspan font-size="8.2">33</tspan></text>
<polygon points="410.60,702.85 414.25,704.95 414.25,709.17 410.60,711.27 406.95,709.17 406.95,704.95" fill="#fff" stroke="#000" stroke-width="1.45" stroke-linejoin="miter"/>
<text x="427.7" y="711.36" font-size="12.65">Casting + HIP Ti-6Al-4V-<tspan font-style="italic">x</tspan>B<tspan dy="-4.7"> </tspan><tspan font-size="8.2">34</tspan></text>
<polygon points="410.60,733.10 415.19,725.11 406.01,725.11" fill="#fff" stroke="#000" stroke-width="1.45" stroke-linejoin="miter"/>
<text x="427.7" y="731.68" font-size="12.65">PBF-LB Ti-6Al-4V + 4.5% 316L<tspan dy="-4.7"> </tspan><tspan font-size="8.2">35</tspan></text>
<polygon points="410.60,743.87 414.74,746.88 413.16,751.74 408.04,751.74 406.46,746.88" fill="#fff" stroke="#000" stroke-width="1.45" stroke-linejoin="miter"/>
<text x="427.7" y="752.00" font-size="12.65">PBF-LB Ti-6Al-4V ELI + Fe<tspan font-size="8.2" dy="3">2</tspan><tspan dy="-3">O</tspan><tspan font-size="8.2" dy="3">3</tspan><tspan dy="-3"> + CP Ti</tspan><tspan dy="-4.7"> </tspan><tspan font-size="8.2">36</tspan></text>
<circle cx="180.80" cy="550.00" r="4.7" fill="#B07ADF"/><path d="M178.05,550.00 A2.75,2.75 0 0 0 183.55,550.00 Z" fill="#fff"/>
<circle cx="174.30" cy="580.40" r="4.7" fill="#B07ADF"/><path d="M171.55,580.40 A2.75,2.75 0 0 0 177.05,580.40 Z" fill="#fff"/>
<circle cx="220.10" cy="588.30" r="4.7" fill="#B07ADF"/><path d="M217.35,588.30 A2.75,2.75 0 0 0 222.85,588.30 Z" fill="#fff"/>
<circle cx="222.70" cy="628.30" r="4.7" fill="#B07ADF"/><path d="M219.95,628.30 A2.75,2.75 0 0 0 225.45,628.30 Z" fill="#fff"/>
<circle cx="168.50" cy="659.00" r="4.7" fill="#B07ADF"/><path d="M165.75,659.00 A2.75,2.75 0 0 0 171.25,659.00 Z" fill="#fff"/>
<circle cx="189.70" cy="668.40" r="4.7" fill="#B07ADF"/><path d="M186.95,668.40 A2.75,2.75 0 0 0 192.45,668.40 Z" fill="#fff"/>
<circle cx="179.10" cy="669.50" r="4.7" fill="#B07ADF"/><path d="M176.35,669.50 A2.75,2.75 0 0 0 181.85,669.50 Z" fill="#fff"/>
<circle cx="199.20" cy="683.90" r="4.7" fill="#B07ADF"/><path d="M196.45,683.90 A2.75,2.75 0 0 0 201.95,683.90 Z" fill="#fff"/>
<circle cx="167.50" cy="701.30" r="4.7" fill="#B07ADF"/><path d="M164.75,701.30 A2.75,2.75 0 0 0 170.25,701.30 Z" fill="#fff"/>
<circle cx="149.40" cy="708.50" r="4.7" fill="#B07ADF"/><path d="M146.65,708.50 A2.75,2.75 0 0 0 152.15,708.50 Z" fill="#fff"/>
<polygon points="206.00,477.40 210.50,480.00 210.50,485.20 206.00,487.80 201.50,485.20 201.50,480.00" fill="#38AB68"/><clipPath id="c35"><rect x="198.00" y="474.60" width="8" height="16"/></clipPath><polygon points="206.00,479.38 208.79,480.99 208.79,484.21 206.00,485.82 203.21,484.21 203.21,480.99" fill="#fff" clip-path="url(#c35)"/>
<polygon points="209.00,622.20 213.50,624.80 213.50,630.00 209.00,632.60 204.50,630.00 204.50,624.80" fill="#38AB68"/><clipPath id="c36"><rect x="201.00" y="619.40" width="8" height="16"/></clipPath><polygon points="209.00,624.18 211.79,625.79 211.79,629.01 209.00,630.62 206.21,629.01 206.21,625.79" fill="#fff" clip-path="url(#c36)"/>
<polygon points="218.40,631.00 222.90,633.60 222.90,638.80 218.40,641.40 213.90,638.80 213.90,633.60" fill="#38AB68"/><clipPath id="c37"><rect x="210.40" y="628.20" width="8" height="16"/></clipPath><polygon points="218.40,632.98 221.19,634.59 221.19,637.81 218.40,639.42 215.61,637.81 215.61,634.59" fill="#fff" clip-path="url(#c37)"/>
<polygon points="208.80,638.90 213.30,641.50 213.30,646.70 208.80,649.30 204.30,646.70 204.30,641.50" fill="#38AB68"/><clipPath id="c38"><rect x="200.80" y="636.10" width="8" height="16"/></clipPath><polygon points="208.80,640.88 211.59,642.49 211.59,645.71 208.80,647.32 206.01,645.71 206.01,642.49" fill="#fff" clip-path="url(#c38)"/>
<polygon points="213.10,649.70 217.60,652.30 217.60,657.50 213.10,660.10 208.60,657.50 208.60,652.30" fill="#38AB68"/><clipPath id="c39"><rect x="205.10" y="646.90" width="8" height="16"/></clipPath><polygon points="213.10,651.68 215.89,653.29 215.89,656.51 213.10,658.12 210.31,656.51 210.31,653.29" fill="#fff" clip-path="url(#c39)"/>
<polygon points="164.10,680.40 168.60,683.00 168.60,688.20 164.10,690.80 159.60,688.20 159.60,683.00" fill="#38AB68"/><clipPath id="c40"><rect x="156.10" y="677.60" width="8" height="16"/></clipPath><polygon points="164.10,682.38 166.89,683.99 166.89,687.21 164.10,688.82 161.31,687.21 161.31,683.99" fill="#fff" clip-path="url(#c40)"/>
<polygon points="174.10,677.50 178.60,680.10 178.60,685.30 174.10,687.90 169.60,685.30 169.60,680.10" fill="#38AB68"/><clipPath id="c41"><rect x="166.10" y="674.70" width="8" height="16"/></clipPath><polygon points="174.10,679.48 176.89,681.09 176.89,684.31 174.10,685.92 171.31,684.31 171.31,681.09" fill="#fff" clip-path="url(#c41)"/>
<polygon points="189.30,675.80 193.80,678.40 193.80,683.60 189.30,686.20 184.80,683.60 184.80,678.40" fill="#38AB68"/><clipPath id="c42"><rect x="181.30" y="673.00" width="8" height="16"/></clipPath><polygon points="189.30,677.78 192.09,679.39 192.09,682.61 189.30,684.22 186.51,682.61 186.51,679.39" fill="#fff" clip-path="url(#c42)"/>
<polygon points="167.50,701.30 172.00,703.90 172.00,709.10 167.50,711.70 163.00,709.10 163.00,703.90" fill="#38AB68"/><clipPath id="c43"><rect x="159.50" y="698.50" width="8" height="16"/></clipPath><polygon points="167.50,703.28 170.29,704.89 170.29,708.11 167.50,709.72 164.71,708.11 164.71,704.89" fill="#fff" clip-path="url(#c43)"/>
<polygon points="184.40,709.10 188.90,711.70 188.90,716.90 184.40,719.50 179.90,716.90 179.90,711.70" fill="#38AB68"/><clipPath id="c44"><rect x="176.40" y="706.30" width="8" height="16"/></clipPath><polygon points="184.40,711.08 187.19,712.69 187.19,715.91 184.40,717.52 181.61,715.91 181.61,712.69" fill="#fff" clip-path="url(#c44)"/>
<polygon points="157.10,718.50 161.60,721.10 161.60,726.30 157.10,728.90 152.60,726.30 152.60,721.10" fill="#38AB68"/><clipPath id="c45"><rect x="149.10" y="715.70" width="8" height="16"/></clipPath><polygon points="157.10,720.48 159.89,722.09 159.89,725.31 157.10,726.92 154.31,725.31 154.31,722.09" fill="#fff" clip-path="url(#c45)"/>
<polygon points="193.00,688.00 198.30,693.30 193.00,698.60 187.70,693.30" fill="#FF7F00"/><clipPath id="c46"><rect x="185.00" y="693.30" width="16" height="8"/></clipPath><polygon points="193.00,690.01 196.29,693.30 193.00,696.59 189.71,693.30" fill="#fff" clip-path="url(#c46)"/>
<polygon points="163.70,721.50 169.00,726.80 163.70,732.10 158.40,726.80" fill="#FF7F00"/><clipPath id="c47"><rect x="155.70" y="726.80" width="16" height="8"/></clipPath><polygon points="163.70,723.51 166.99,726.80 163.70,730.09 160.41,726.80" fill="#fff" clip-path="url(#c47)"/>
<circle cx="182.70" cy="551.60" r="4.7" fill="#FF6600"/><path d="M179.95,551.60 A2.75,2.75 0 0 1 185.45,551.60 Z" fill="#fff"/>
<circle cx="232.40" cy="558.30" r="4.7" fill="#FF6600"/><path d="M229.65,558.30 A2.75,2.75 0 0 1 235.15,558.30 Z" fill="#fff"/>
<circle cx="215.80" cy="569.40" r="4.7" fill="#FF6600"/><path d="M213.05,569.40 A2.75,2.75 0 0 1 218.55,569.40 Z" fill="#fff"/>
<circle cx="208.80" cy="573.80" r="4.7" fill="#FF6600"/><path d="M206.05,573.80 A2.75,2.75 0 0 1 211.55,573.80 Z" fill="#fff"/>
<circle cx="160.50" cy="622.90" r="4.7" fill="#FF6600"/><path d="M157.75,622.90 A2.75,2.75 0 0 1 163.25,622.90 Z" fill="#fff"/>
<circle cx="199.40" cy="638.40" r="4.7" fill="#FF6600"/><path d="M196.65,638.40 A2.75,2.75 0 0 1 202.15,638.40 Z" fill="#fff"/>
<circle cx="171.60" cy="644.10" r="4.7" fill="#FF6600"/><path d="M168.85,644.10 A2.75,2.75 0 0 1 174.35,644.10 Z" fill="#fff"/>
<circle cx="188.20" cy="651.70" r="4.7" fill="#FF6600"/><path d="M185.45,651.70 A2.75,2.75 0 0 1 190.95,651.70 Z" fill="#fff"/>
<circle cx="193.70" cy="659.90" r="4.7" fill="#FF6600"/><path d="M190.95,659.90 A2.75,2.75 0 0 1 196.45,659.90 Z" fill="#fff"/>
<circle cx="182.80" cy="667.40" r="4.7" fill="#FF6600"/><path d="M180.05,667.40 A2.75,2.75 0 0 1 185.55,667.40 Z" fill="#fff"/>
<circle cx="173.00" cy="671.10" r="4.7" fill="#FF6600"/><path d="M170.25,671.10 A2.75,2.75 0 0 1 175.75,671.10 Z" fill="#fff"/>
<circle cx="181.00" cy="685.10" r="4.7" fill="#FF6600"/><path d="M178.25,685.10 A2.75,2.75 0 0 1 183.75,685.10 Z" fill="#fff"/>
<circle cx="157.50" cy="703.10" r="4.7" fill="#FF6600"/><path d="M154.75,703.10 A2.75,2.75 0 0 1 160.25,703.10 Z" fill="#fff"/>
<circle cx="174.50" cy="708.90" r="4.7" fill="#FF6600"/><path d="M171.75,708.90 A2.75,2.75 0 0 1 177.25,708.90 Z" fill="#fff"/>
<circle cx="162.20" cy="721.70" r="4.7" fill="#FF6600"/><path d="M159.45,721.70 A2.75,2.75 0 0 1 164.95,721.70 Z" fill="#fff"/>
<circle cx="157.60" cy="726.30" r="4.7" fill="#FF6600"/><path d="M154.85,726.30 A2.75,2.75 0 0 1 160.35,726.30 Z" fill="#fff"/>
<circle cx="149.30" cy="746.40" r="4.7" fill="#FF6600"/><path d="M146.55,746.40 A2.75,2.75 0 0 1 152.05,746.40 Z" fill="#fff"/>
<circle cx="135.50" cy="758.90" r="4.7" fill="#0CC6C6"/><path d="M135.50,756.15 A2.75,2.75 0 0 1 135.50,761.65 Z" fill="#fff"/>
<circle cx="153.40" cy="683.10" r="4.7" fill="#0CC6C6"/><path d="M153.40,680.35 A2.75,2.75 0 0 1 153.40,685.85 Z" fill="#fff"/>
<circle cx="181.60" cy="709.00" r="4.7" fill="#0CC6C6"/><path d="M181.60,706.25 A2.75,2.75 0 0 1 181.60,711.75 Z" fill="#fff"/>
<circle cx="209.00" cy="679.90" r="4.7" fill="#0CC6C6"/><path d="M209.00,677.15 A2.75,2.75 0 0 1 209.00,682.65 Z" fill="#fff"/>
<polygon points="135.00,750.70 145.20,756.30 135.00,761.90" fill="#5E99D0"/><clipPath id="c48"><rect x="131.50" y="756.30" width="16" height="8"/></clipPath><polygon points="137.03,753.22 142.63,756.30 137.03,759.38" fill="#fff" clip-path="url(#c48)"/>
<polygon points="156.80,733.10 167.00,738.70 156.80,744.30" fill="#5E99D0"/><clipPath id="c49"><rect x="153.30" y="738.70" width="16" height="8"/></clipPath><polygon points="158.83,735.62 164.44,738.70 158.83,741.78" fill="#fff" clip-path="url(#c49)"/>
<polygon points="163.10,715.90 173.30,721.50 163.10,727.10" fill="#5E99D0"/><clipPath id="c50"><rect x="159.60" y="721.50" width="16" height="8"/></clipPath><polygon points="165.12,718.42 170.73,721.50 165.12,724.58" fill="#fff" clip-path="url(#c50)"/>
<polygon points="169.40,712.60 179.60,718.20 169.40,723.80" fill="#5E99D0"/><clipPath id="c51"><rect x="165.90" y="718.20" width="16" height="8"/></clipPath><polygon points="171.43,715.12 177.03,718.20 171.43,721.28" fill="#fff" clip-path="url(#c51)"/>
<polygon points="202.00,581.90 206.50,584.50 206.50,589.70 202.00,592.30 197.50,589.70 197.50,584.50" fill="#8000FF"/><clipPath id="c52"><rect x="194.00" y="579.10" width="16" height="8"/></clipPath><polygon points="202.00,583.88 204.79,585.49 204.79,588.71 202.00,590.32 199.21,588.71 199.21,585.49" fill="#fff" clip-path="url(#c52)"/>
<polygon points="208.80,594.50 213.30,597.10 213.30,602.30 208.80,604.90 204.30,602.30 204.30,597.10" fill="#8000FF"/><clipPath id="c53"><rect x="200.80" y="591.70" width="16" height="8"/></clipPath><polygon points="208.80,596.48 211.59,598.09 211.59,601.31 208.80,602.92 206.01,601.31 206.01,598.09" fill="#fff" clip-path="url(#c53)"/>
<polygon points="202.00,658.80 206.50,661.40 206.50,666.60 202.00,669.20 197.50,666.60 197.50,661.40" fill="#8000FF"/><clipPath id="c54"><rect x="194.00" y="656.00" width="16" height="8"/></clipPath><polygon points="202.00,660.78 204.79,662.39 204.79,665.61 202.00,667.22 199.21,665.61 199.21,662.39" fill="#fff" clip-path="url(#c54)"/>
<polygon points="217.00,577.30 206.80,582.90 217.00,588.50" fill="#C8960A"/><clipPath id="c55"><rect x="204.50" y="582.90" width="16" height="8"/></clipPath><polygon points="214.97,579.82 209.37,582.90 214.97,585.98" fill="#fff" clip-path="url(#c55)"/>
<polygon points="218.80,589.60 208.60,595.20 218.80,600.80" fill="#C8960A"/><clipPath id="c56"><rect x="206.30" y="595.20" width="16" height="8"/></clipPath><polygon points="216.78,592.12 211.17,595.20 216.78,598.28" fill="#fff" clip-path="url(#c56)"/>
<polygon points="222.20,667.10 212.00,672.70 222.20,678.30" fill="#C8960A"/><clipPath id="c57"><rect x="209.70" y="672.70" width="16" height="8"/></clipPath><polygon points="220.17,669.62 214.56,672.70 220.17,675.78" fill="#fff" clip-path="url(#c57)"/>
<polygon points="201.80,623.28 206.39,631.27 197.21,631.27" fill="#fff" stroke="#000" stroke-width="1.45" stroke-linejoin="miter"/>
<polygon points="160.60,688.08 165.19,696.07 156.01,696.07" fill="#fff" stroke="#000" stroke-width="1.45" stroke-linejoin="miter"/>
<polygon points="229.60,523.90 230.89,526.62 233.88,527.01 231.69,529.08 232.25,532.04 229.60,530.60 226.95,532.04 227.51,529.08 225.32,527.01 228.31,526.62" fill="#fff" stroke="#000" stroke-width="1.45" stroke-linejoin="miter"/>
<polygon points="188.10,608.50 189.39,611.22 192.38,611.61 190.19,613.68 190.75,616.64 188.10,615.20 185.45,616.64 186.01,613.68 183.82,611.61 186.81,611.22" fill="#fff" stroke="#000" stroke-width="1.45" stroke-linejoin="miter"/>
<polygon points="154.80,667.30 156.09,670.02 159.08,670.41 156.89,672.48 157.45,675.44 154.80,674.00 152.15,675.44 152.71,672.48 150.52,670.41 153.51,670.02" fill="#fff" stroke="#000" stroke-width="1.45" stroke-linejoin="miter"/>
<polygon points="160.60,667.30 161.89,670.02 164.88,670.41 162.69,672.48 163.25,675.44 160.60,674.00 157.95,675.44 158.51,672.48 156.32,670.41 159.31,670.02" fill="#fff" stroke="#000" stroke-width="1.45" stroke-linejoin="miter"/>
<polygon points="177.60,718.50 184.40,718.50 184.40,725.30 177.60,725.30" fill="#fff" stroke="#000" stroke-width="1.45" stroke-linejoin="miter"/>
<polygon points="178.18,628.14 186.84,632.90 178.18,637.66" fill="#fff" stroke="#000" stroke-width="1.45" stroke-linejoin="miter"/>
<polygon points="174.10,673.29 177.75,675.39 177.75,679.61 174.10,681.71 170.45,679.61 170.45,675.39" fill="#fff" stroke="#000" stroke-width="1.45" stroke-linejoin="miter"/>
<polygon points="187.90,686.89 191.55,688.99 191.55,693.21 187.90,695.31 184.25,693.21 184.25,688.99" fill="#fff" stroke="#000" stroke-width="1.45" stroke-linejoin="miter"/>
<polygon points="174.40,655.35 178.85,659.80 174.40,664.25 169.95,659.80" fill="#fff" stroke="#000" stroke-width="1.45" stroke-linejoin="miter"/>
<polygon points="188.30,679.45 192.75,683.90 188.30,688.35 183.85,683.90" fill="#fff" stroke="#000" stroke-width="1.45" stroke-linejoin="miter"/>
<polygon points="240.50,674.82 245.09,666.83 235.91,666.83" fill="#fff" stroke="#000" stroke-width="1.45" stroke-linejoin="miter"/>
<polygon points="161.90,611.97 166.04,614.98 164.46,619.84 159.34,619.84 157.76,614.98" fill="#fff" stroke="#000" stroke-width="1.45" stroke-linejoin="miter"/>
<polygon points="186.60,523.37 190.74,526.38 189.16,531.24 184.04,531.24 182.46,526.38" fill="#fff" stroke="#000" stroke-width="1.45" stroke-linejoin="miter"/>
<polygon points="195.00,523.37 199.14,526.38 197.56,531.24 192.44,531.24 190.86,526.38" fill="#fff" stroke="#000" stroke-width="1.45" stroke-linejoin="miter"/>
<polygon points="225.40,478.77 229.54,481.78 227.96,486.64 222.84,486.64 221.26,481.78" fill="#fff" stroke="#000" stroke-width="1.45" stroke-linejoin="miter"/>
<polygon points="177.32,705.64 168.66,710.40 177.32,715.16" fill="#fff" stroke="#000" stroke-width="1.45" stroke-linejoin="miter"/>
<polygon points="205.12,694.84 196.46,699.60 205.12,704.36" fill="#fff" stroke="#000" stroke-width="1.45" stroke-linejoin="miter"/></svg></body></html>
